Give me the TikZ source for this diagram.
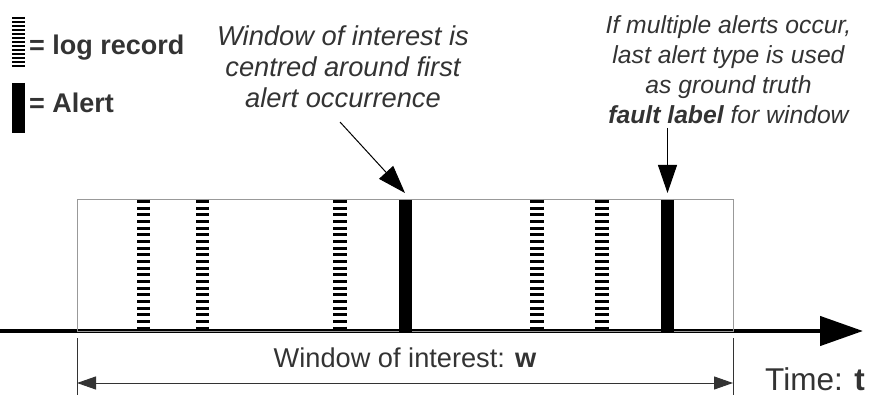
\documentclass[tikz,border=0pt]{standalone}
\usepackage{fontspec}
\setmainfont{Liberation Sans}
\usetikzlibrary{arrows.meta}
\definecolor{txtgray}{HTML}{333333}
\definecolor{framegray}{HTML}{999999}
\begin{document}
\begin{tikzpicture}[x=1pt,y=-1pt,
  label text/.style={text=txtgray, inner sep=0pt, font=\fontsize{27.2}{31}\selectfont},
  note/.style={label text, align=center},
  logbar/.style={line width=13.3pt, dash pattern=on 3pt off 3.67pt},
  legendlog/.style={line width=13pt, dash pattern=on 2pt off 2pt},
  alertbar/.style={line width=12.5pt},
  pointer/.style={line width=1pt, -{Triangle[length=28pt,width=19pt]}},
  timeaxis/.style={line width=4.5pt, -{Triangle[length=43pt,width=29pt]}},
  dimline/.style={draw=txtgray, line width=1pt},
]
\useasboundingbox (0,0) rectangle (878,395);

% legend
\draw[legendlog] (18.5,17) -- (18.5,67);
\draw[alertbar] (18.5,83) -- (18.5,133);
\node[label text, anchor=base west, font=\fontsize{27}{31}\selectfont\bfseries] (leglog) at (29,55) {= log record};
\node[label text, anchor=base west, font=\fontsize{27}{31}\selectfont\bfseries] (legalert) at (29,113) {= Alert};

% time axis
\coordinate (tstart) at (0,331);
\coordinate (tend) at (863,331);
\draw[timeaxis] (tstart) -- (tend);

% window of interest
\coordinate (wl) at (77,200);
\coordinate (wr) at (733,331);
\draw[framegray, line width=1pt] (wl) rectangle (wr);

% log records
\foreach \x in {143.3,202.3,340,537,602}
  \draw[logbar] (\x,200) -- (\x,330);

% alerts
\coordinate (a1t) at (405.5,200); \coordinate (a1b) at (405.5,332);
\coordinate (a2t) at (667.5,200); \coordinate (a2b) at (667.5,332);
\draw[alertbar] (a1t) -- (a1b);
\draw[alertbar] (a2t) -- (a2b);

% annotations
\node[note, anchor=north, font=\fontsize{27.3}{31}\selectfont\itshape] (note1) at (343,25.2)
  {Window of interest is\\centred around first\\alert occurrence};
\node[note, anchor=north, font=\fontsize{24.7}{30}\selectfont\itshape] (note2) at (728.5,15)
  {If multiple alerts occur,\\last alert type is used\\as ground truth\\\textbf{fault label} for window};
\coordinate (p1s) at (340,122); \coordinate (p1e) at (405,193);
\coordinate (p2s) at (667.5,128); \coordinate (p2e) at (667.5,193);
\draw[pointer] (p1s) -- (p1e);
\draw[pointer] (p2s) -- (p2e);

% window width dimension
\coordinate (dl) at (77,338); \coordinate (dlb) at (77,395);
\coordinate (dr) at (733,338); \coordinate (drb) at (733,395);
\draw[dimline] (dl) -- (dlb);
\draw[dimline] (dr) -- (drb);
\draw[dimline, {Triangle[length=19pt,width=13pt]}-{Triangle[length=19pt,width=13pt]}] (77,383) -- (733,383);
\node[label text, anchor=base] (wlabel) at (405,367) {Window of interest: \textbf{w}};
\node[label text, anchor=base west, font=\fontsize{31.5}{36}\selectfont] (tlabel) at (765,390) {Time: \textbf{t}};
\end{tikzpicture}
\end{document}
